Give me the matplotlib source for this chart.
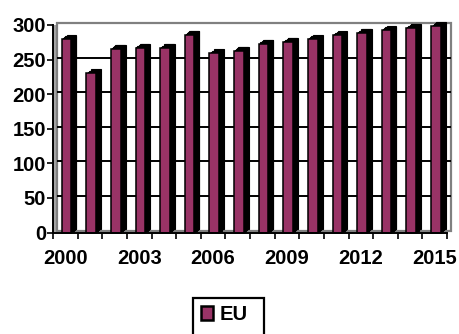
import matplotlib
matplotlib.use("Agg")
import matplotlib.pyplot as plt
from matplotlib.patches import Rectangle
from matplotlib.transforms import ScaledTranslation
import numpy as np

years = list(range(2000, 2016))
eu_values = [280, 230, 266, 267, 267, 286, 259, 263, 273, 276, 280, 285, 289, 293, 296, 298]
y_ticks = [0, 50, 100, 150, 200, 250, 300]
x_label_years = [2000, 2003, 2006, 2009, 2012, 2015]

BAR_COLOR = "#993366"
FONT = "Liberation Sans"
FS = 14.5

plt.rcParams["font.family"] = [FONT, "DejaVu Sans"]
plt.rcParams["font.weight"] = "bold"

W, H = 459, 334
fig = plt.figure(figsize=(W / 100, H / 100), dpi=100)
ax = fig.add_axes([53 / W, 101.5 / H, 394 / W, 207.5 / H])
ax.set_xlim(-0.5, len(years) - 0.5)
ax.set_ylim(0, 300)

def shifted(px_x, px_y):
    return ax.transData + ScaledTranslation(px_x / 100, px_y / 100, fig.dpi_scale_trans)

# back wall with a little depth: grey side wall / floor, white wall on top
wall_dx, wall_dy = 4, 2
ax.add_patch(Rectangle((-0.5, 0), len(years), 300, facecolor="#a6a6a6",
                       edgecolor="none", zorder=0.2))
ax.add_patch(Rectangle((-0.5, 0), len(years), 300, facecolor="white",
                       edgecolor="#808080", linewidth=1.6, zorder=0.4,
                       transform=shifted(wall_dx, wall_dy), clip_on=False))
ax.hlines(y_ticks[1:-1], -0.5, len(years) - 0.5, colors="black", linewidth=1.4,
          transform=shifted(wall_dx, wall_dy), zorder=0.6, clip_on=False)

# bars: black extrusion behind a purple front face
x = np.arange(len(years)) + 0.05
width = 0.39
depth_x, depth_y = 5, 4
steps = 6
for k in range(1, steps + 1):
    ax.bar(x, eu_values, width=width, color="black", edgecolor="black",
           linewidth=0.8, zorder=1.0 + k * 0.01,
           transform=shifted(depth_x * k / steps, depth_y * k / steps), clip_on=False)
ax.bar(x, eu_values, width=width, color=BAR_COLOR, edgecolor="black",
       linewidth=1.1, zorder=2, label="EU", clip_on=False)

# axes styling
for side in ("top", "right"):
    ax.spines[side].set_visible(False)
for side in ("left", "bottom"):
    ax.spines[side].set_color("black")
    ax.spines[side].set_linewidth(1.4)
    ax.spines[side].set_zorder(3)

ax.set_yticks(y_ticks)
ax.set_yticklabels([str(v) for v in y_ticks], fontsize=FS, fontweight="bold")
ax.tick_params(axis="y", direction="out", length=4, width=1.2, pad=1)

label_pos = [years.index(y) for y in x_label_years]
ax.set_xticks(label_pos)
ax.set_xticklabels([str(y) for y in x_label_years], fontsize=FS, fontweight="bold")
ax.set_xticks(np.arange(len(years) + 1) - 0.5, minor=True)
ax.tick_params(axis="x", which="major", length=0, pad=12)
ax.tick_params(axis="x", which="minor", direction="out", length=4, width=1.2)

# legend entries without frame; the box runs off the bottom edge
leg = fig.legend(loc="center left", bbox_to_anchor=(200.5 / W, (H - 314.5) / H),
                 frameon=False, prop={"family": FONT, "weight": "bold", "size": FS},
                 handlelength=0.64, handleheight=0.64, handletextpad=0.3,
                 borderpad=0, borderaxespad=0)
for h in leg.legend_handles:
    h.set_edgecolor("black")
    h.set_linewidth(1.8)
fig.add_artist(Rectangle((193 / W, -6 / H), 71 / W, (H - 297.5 + 6) / H,
                         transform=fig.transFigure, facecolor="none",
                         edgecolor="black", linewidth=1.6))

fig.savefig("out.png", dpi=100)
